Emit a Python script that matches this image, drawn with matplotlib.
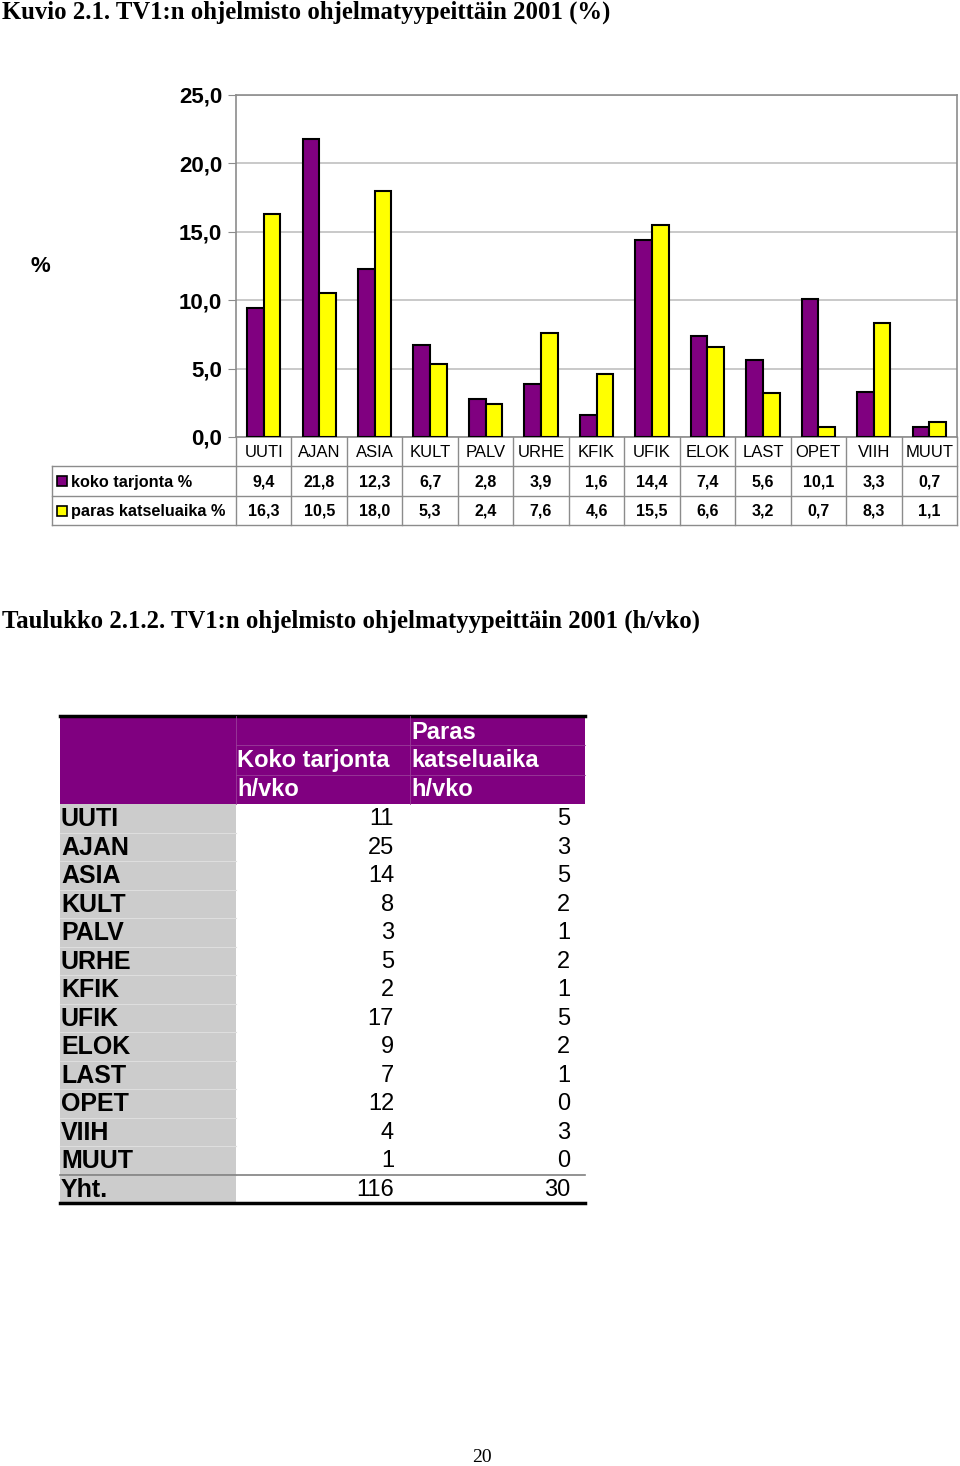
import numpy as np
import matplotlib.pyplot as plt
from matplotlib.patches import Rectangle

# data
categories = ['UUTI', 'AJAN', 'ASIA', 'KULT', 'PALV', 'URHE', 'KFIK',
              'UFIK', 'ELOK', 'LAST', 'OPET', 'VIIH', 'MUUT']
koko_pct = [9.4, 21.8, 12.3, 6.7, 2.8, 3.9, 1.6, 14.4, 7.4, 5.6, 10.1, 3.3, 0.7]
paras_pct = [16.3, 10.5, 18.0, 5.3, 2.4, 7.6, 4.6, 15.5, 6.6, 3.2, 0.7, 8.3, 1.1]
series_names = ['koko tarjonta %', 'paras katseluaika %']

koko_h = [11, 25, 14, 8, 3, 5, 2, 17, 9, 7, 12, 4, 1]
paras_h = [5, 3, 5, 2, 1, 2, 1, 5, 2, 1, 0, 3, 0]
total_label = 'Yht.'
koko_total = 116
paras_total = 30

title1 = 'Kuvio 2.1. TV1:n ohjelmisto ohjelmatyypeittäin 2001 (%)'
title2 = 'Taulukko 2.1.2. TV1:n ohjelmisto ohjelmatyypeittäin 2001 (h/vko)'
page_no = '20'

PURPLE = '#800080'
YELLOW = '#FFFF00'
GREY = '#8c8c8c'

W, H = 960, 1466
fig = plt.figure(figsize=(W / 100, H / 100), dpi=100)

# page axes in pixel coordinates
page = fig.add_axes([0, 0, 1, 1])
page.set_xlim(0, W)
page.set_ylim(H, 0)
page.axis('off')

serif = 'Liberation Serif'
sans = 'Liberation Sans'

page.text(2, 12, title1, fontsize=17.8, fontweight='bold', family=serif, va='center', ha='left')
page.text(2, 621, title2, fontsize=17.8, fontweight='bold', family=serif, va='center', ha='left')
page.text(482, 1457, page_no, fontsize=14, family=serif, va='center', ha='center')

# ---- bar chart ----
x0, x1 = 236, 957
y_top, y_bot = 95, 437
ax = fig.add_axes([x0 / W, 1 - y_bot / H, (x1 - x0) / W, (y_bot - y_top) / H])
n = len(categories)
x = np.arange(n)
bw = 0.3
ax.bar(x - bw / 2, koko_pct, bw, color=PURPLE, edgecolor='black', linewidth=1.5, zorder=3)
ax.bar(x + bw / 2, paras_pct, bw, color=YELLOW, edgecolor='black', linewidth=1.5, zorder=3)
ax.set_xlim(-0.5, n - 0.5)
ax.set_ylim(0, 25)
ax.set_yticks(np.arange(0, 26, 5))
ax.set_yticklabels([f'{v:.1f}'.replace('.', ',') for v in np.arange(0, 26, 5)],
                   fontsize=16, fontweight='bold', family=sans)
ax.tick_params(axis='y', length=6, color=GREY, pad=4)
ax.set_xticks([])
ax.yaxis.grid(True, color='#c0c0c0', linewidth=1.2, zorder=0)
for s in ax.spines.values():
    s.set_color(GREY)
    s.set_linewidth(1.2)
ax.set_facecolor('white')

page.text(40, 267, '%', fontsize=16, fontweight='bold', family=sans, ha='center', va='center')

# ---- data table under the chart ----
cw = (x1 - x0) / n
row_y = [437, 466, 496, 525]
tl = 52
lc = dict(color=GREY, linewidth=1.0)
page.plot([tl, x1], [row_y[1], row_y[1]], **lc)
page.plot([tl, x1], [row_y[2], row_y[2]], **lc)
page.plot([tl, x1], [row_y[3], row_y[3]], **lc)
page.plot([tl, tl], [row_y[1], row_y[3]], **lc)
for i in range(n + 1):
    xx = x0 + i * cw
    page.plot([xx, xx], [row_y[0], row_y[3]], **lc)
for i, c in enumerate(categories):
    cx = x0 + (i + 0.5) * cw
    page.text(cx, (row_y[0] + row_y[1]) / 2 + 1, c, fontsize=12, family=sans,
              ha='center', va='center')
    page.text(cx, (row_y[1] + row_y[2]) / 2 + 1, f'{koko_pct[i]:.1f}'.replace('.', ','),
              fontsize=11.5, fontweight='bold', family=sans, ha='center', va='center')
    page.text(cx, (row_y[2] + row_y[3]) / 2 + 1, f'{paras_pct[i]:.1f}'.replace('.', ','),
              fontsize=11.5, fontweight='bold', family=sans, ha='center', va='center')
for j, (name, col) in enumerate(zip(series_names, [PURPLE, YELLOW])):
    yc = (row_y[j + 1] + row_y[j + 2]) / 2
    page.add_patch(Rectangle((57, yc - 5), 10, 10, facecolor=col, edgecolor='black', linewidth=1.2))
    page.text(71, yc + 1, name, fontsize=11.7, fontweight='bold', family=sans, ha='left', va='center')

# ---- h/vko table ----
tx = [60, 236, 410, 585]
hdr_top, hdr_bot = 716, 804
rh = 28.5
page.add_patch(Rectangle((tx[0], hdr_top), tx[3] - tx[0], hdr_bot - hdr_top, facecolor=PURPLE,
                         edgecolor='none'))
page.plot([tx[0], tx[3]], [hdr_top, hdr_top], color='black', linewidth=2.5)
rows = categories + [total_label]
kvals = koko_h + [koko_total]
pvals = paras_h + [paras_total]
body_bot = hdr_bot + rh * len(rows)
page.add_patch(Rectangle((tx[0], hdr_bot), tx[1] - tx[0], body_bot - hdr_bot, facecolor='#cccccc',
                         edgecolor='none'))
for k in range(1, len(rows)):
    yy = hdr_bot + k * rh
    page.plot([tx[0], tx[1]], [yy, yy], color='#dedede', linewidth=0.8)
hdr_rows = [hdr_top + (hdr_bot - hdr_top) * f for f in (0.19, 0.51, 0.83)]
for yy in [hdr_top + (hdr_bot - hdr_top) / 3, hdr_top + 2 * (hdr_bot - hdr_top) / 3]:
    page.plot([tx[1], tx[3]], [yy, yy], color='#9a3d9a', linewidth=0.6)
page.plot([tx[1], tx[1]], [hdr_top, hdr_bot], color='#9a3d9a', linewidth=0.6)
page.plot([tx[2], tx[2]], [hdr_top, hdr_bot], color='#9a3d9a', linewidth=0.6)
hf = dict(fontsize=17, fontweight='bold', family=sans, color='white', ha='left', va='center')
page.text(tx[2] + 1, hdr_rows[0], 'Paras', **hf)
page.text(tx[1] + 1, hdr_rows[1], 'Koko tarjonta', **hf)
page.text(tx[2] + 1, hdr_rows[1], 'katseluaika', **hf)
page.text(tx[1] + 1, hdr_rows[2], 'h/vko', **hf)
page.text(tx[2] + 1, hdr_rows[2], 'h/vko', **hf)
for k, (lab, kv, pv) in enumerate(zip(rows, kvals, pvals)):
    yc = hdr_bot + (k + 0.5) * rh + 1
    page.text(tx[0] + 1, yc, lab, fontsize=18, fontweight='bold', family=sans, ha='left', va='center')
    page.text(tx[2] - 16, yc, str(kv), fontsize=17, family=sans, ha='right', va='center')
    page.text(tx[3] - 15, yc, str(pv), fontsize=17, family=sans, ha='right', va='center')
yy = hdr_bot + (len(rows) - 1) * rh
page.plot([tx[0], tx[3]], [yy, yy], color='#808080', linewidth=1.2)
page.plot([tx[0], tx[3]], [body_bot, body_bot], color='black', linewidth=2.5)

fig.savefig('out.png', dpi=100, facecolor='white')
